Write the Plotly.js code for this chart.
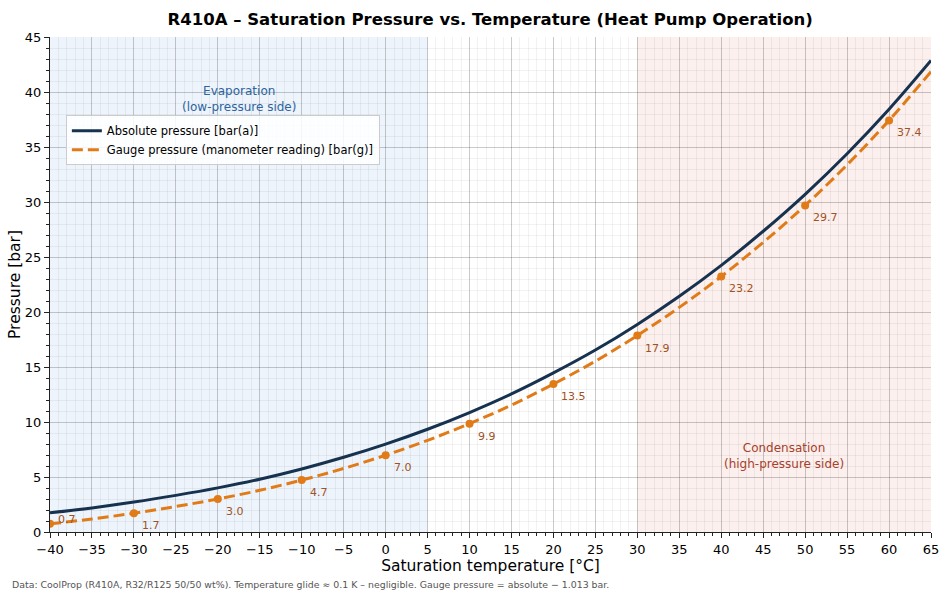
<!DOCTYPE html>
<html><head><meta charset="utf-8">
<script src="https://cdn.plot.ly/plotly-3.0.1.min.js"></script>
<style>html,body{margin:0;padding:0;background:#fff}#chart{width:950px;height:594px}</style>
</head><body><div id="chart"></div>
<script>
const temps = [-40,-35,-30,-25,-20,-15,-10,-5,0,5,10,15,20,25,30,35,40,45,50,55,60,65];
const absPressure = [1.75,2.19,2.72,3.33,4.01,4.80,5.73,6.79,7.99,9.34,10.86,12.55,14.46,16.54,18.87,21.43,24.24,27.34,30.70,34.39,38.43,42.86];
const gaugePressure = [0.74,1.18,1.71,2.32,3.00,3.79,4.72,5.78,6.98,8.33,9.85,11.54,13.45,15.53,17.86,20.42,23.23,26.33,29.69,33.38,37.42,41.85];
const markTemps = [-40,-30,-20,-10,0,10,20,30,40,50,60];
const markGauge = [0.74,1.71,3.00,4.72,6.98,9.85,13.45,17.86,23.23,29.69,37.42];
const markLabels = ["0.7","1.7","3.0","4.7","7.0","9.9","13.5","17.9","23.2","29.7","37.4"];
const xTicks = [-40,-35,-30,-25,-20,-15,-10,-5,0,5,10,15,20,25,30,35,40,45,50,55,60,65];
const yTicks = [0,5,10,15,20,25,30,35,40,45];

const FONT = "DejaVu Sans, sans-serif";
const traces = [
  {x: temps, y: absPressure, mode: 'lines', name: 'Absolute pressure [bar(a)]',
   line: {color: '#17324f', width: 3, shape: 'spline'}},
  {x: temps, y: gaugePressure, mode: 'lines', name: 'Gauge pressure (manometer reading) [bar(g)]',
   line: {color: '#e07b18', width: 3, dash: '11px,5px', shape: 'spline'}},
  {x: markTemps, y: markGauge, mode: 'markers', showlegend: false,
   marker: {color: '#e07b18', size: 8}}
];

const annotations = markTemps.map((t, i) => ({
  x: t, y: markGauge[i], text: markLabels[i], showarrow: false,
  xanchor: 'left', yanchor: markGauge[i] < 1 ? 'bottom' : 'top',
  xshift: 6, yshift: -4,
  font: {family: FONT, size: 11, color: '#a0521f'}
}));
annotations.push(
  {x: -17.5, y: 39.4, text: 'Evaporation<br>(low-pressure side)', showarrow: false,
   font: {family: FONT, size: 12, color: '#2d64a0'}, xanchor: 'center', yanchor: 'middle'},
  {x: 47.5, y: 6.9, text: 'Condensation<br>(high-pressure side)', showarrow: false,
   font: {family: FONT, size: 12, color: '#a8402a'}, xanchor: 'center', yanchor: 'middle'},
  {xref: 'paper', yref: 'paper', x: -0.0454, y: -0.107, xanchor: 'left', yanchor: 'middle',
   text: 'Data: CoolProp (R410A, R32/R125 50/50 wt%). Temperature glide \u2248 0.1 K \u2013 negligible. Gauge pressure = absolute \u2212 1.013 bar.',
   showarrow: false, font: {family: FONT, size: 9.4, color: '#555555'}}
);

const layout = {
  width: 950, height: 594,
  margin: {l: 50, r: 19, t: 37, b: 62},
  paper_bgcolor: '#ffffff', plot_bgcolor: '#ffffff',
  font: {family: FONT, size: 13, color: '#000'},
  title: {text: '<b>R410A \u2013 Saturation Pressure vs. Temperature (Heat Pump Operation)</b>',
          x: 0.516, xanchor: 'center', y: 0.967, yanchor: 'middle',
          font: {family: FONT, size: 16.5, color: '#000'}},
  xaxis: {range: [-40, 65], tickvals: xTicks, ticktext: xTicks.map(v => v < 0 ? '\u2212' + Math.abs(v) : String(v)),
          showline: true, linecolor: '#222', linewidth: 1, mirror: false,
          ticks: 'outside', ticklen: 5, tickcolor: '#222', zeroline: false,
          showgrid: true, gridcolor: 'rgba(0,0,0,0.16)', gridwidth: 1,
          minor: {dtick: 1, showgrid: true, gridcolor: 'rgba(0,0,0,0.05)', ticks: 'outside', ticklen: 3, tickcolor: '#222'},
          tickfont: {family: FONT, size: 13},
          title: {text: 'Saturation temperature [\u00b0C]', font: {family: FONT, size: 15.5}, standoff: 2}},
  yaxis: {range: [0, 45], tickvals: yTicks,
          showline: true, linecolor: '#222', linewidth: 1, mirror: false,
          ticks: 'outside', ticklen: 5, tickcolor: '#222', zeroline: false,
          showgrid: true, gridcolor: 'rgba(0,0,0,0.16)', gridwidth: 1,
          minor: {dtick: 1, showgrid: true, gridcolor: 'rgba(0,0,0,0.05)', ticks: 'outside', ticklen: 3, tickcolor: '#222'},
          tickfont: {family: FONT, size: 13},
          title: {text: 'Pressure [bar]', font: {family: FONT, size: 15.5}, standoff: 0}},
  shapes: [
    {type: 'rect', xref: 'x', yref: 'paper', x0: -40, x1: 5, y0: 0, y1: 1,
     fillcolor: 'rgba(40,110,200,0.08)', line: {width: 0}, layer: 'below'},
    {type: 'rect', xref: 'x', yref: 'paper', x0: 30, x1: 65, y0: 0, y1: 1,
     fillcolor: 'rgba(200,70,40,0.08)', line: {width: 0}, layer: 'below'}
  ],
  legend: {x: 0.018, y: 0.842, xanchor: 'left', yanchor: 'top',
           bgcolor: 'rgba(255,255,255,0.85)', bordercolor: '#cccccc', borderwidth: 1,
           font: {family: FONT, size: 11.5}, tracegroupgap: 0},
  annotations: annotations,
  showlegend: true
};
Plotly.newPlot('chart', traces, layout, {displayModeBar: false, staticPlot: true});
</script></body></html>
